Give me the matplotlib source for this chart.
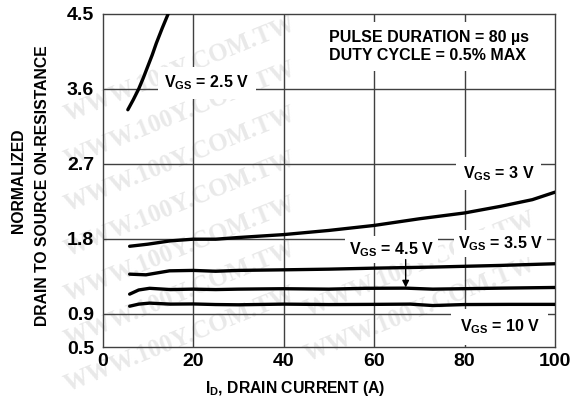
import matplotlib
matplotlib.use("Agg")
import matplotlib.pyplot as plt

# ---------------- data ----------------
id_25 = [5.6, 6.8, 8.0, 9.0, 10.0, 11.0, 11.9, 13.2, 14.5]
r_25 = [3.35, 3.47, 3.60, 3.73, 3.87, 4.01, 4.15, 4.33, 4.50]

id_3 = [6, 10, 15, 20, 25, 30, 40, 50, 60, 70, 80, 88, 95, 100]
r_3 = [1.71, 1.735, 1.775, 1.795, 1.795, 1.815, 1.85, 1.90, 1.96, 2.04, 2.11, 2.19, 2.27, 2.36]

id_35 = [6, 9.6, 14.8, 20, 25, 30, 40, 50, 60, 73, 88, 100]
r_35 = [1.375, 1.367, 1.415, 1.42, 1.41, 1.42, 1.427, 1.435, 1.447, 1.46, 1.48, 1.50]

id_45 = [6, 8, 10.4, 15, 20, 25, 30, 40, 50, 58, 67, 73, 88, 100]
r_45 = [1.135, 1.185, 1.205, 1.19, 1.195, 1.19, 1.195, 1.20, 1.195, 1.205, 1.207, 1.195, 1.207, 1.215]

id_10 = [6, 8, 10.4, 15, 20, 25, 30, 40, 50, 60, 68, 73, 80, 90, 100]
r_10 = [0.99, 1.015, 1.027, 1.015, 1.017, 1.01, 1.007, 1.015, 1.01, 1.012, 1.015, 0.998, 1.01, 1.012, 1.012]

xticks = [0, 20, 40, 60, 80, 100]
yticks = [0.5, 0.9, 1.8, 2.7, 3.6, 4.5]
ytick_labels = ["0.5", "0.9", "1.8", "2.7", "3.6", "4.5"]

# ---------------- style ----------------
plt.rcParams['font.family'] = ['Liberation Sans', 'DejaVu Sans']
plt.rcParams['font.weight'] = 'bold'
plt.rcParams['mathtext.fontset'] = 'custom'
plt.rcParams['mathtext.rm'] = 'Liberation Sans:bold'
plt.rcParams['mathtext.it'] = 'Liberation Sans:bold'
plt.rcParams['mathtext.bf'] = 'Liberation Sans:bold'

W, H = 580, 404
fig = plt.figure(figsize=(W / 100, H / 100), dpi=100)
L, R, T, B = 102.5, 555, 14, 347
ax = fig.add_axes([L / W, 1 - B / H, (R - L) / W, (B - T) / H])
ax.set_facecolor('none')

# watermark (very faint, behind everything)
wm_color = '#e9e9e9'
for i in range(7):
    fig.text(180 / W, 1 - (70 + 45 * i) / H, "WWW.100Y.COM.TW", rotation=22,
             ha='center', va='center', fontsize=18, family='Liberation Serif',
             weight='bold', color=wm_color, zorder=-5)
for i in range(2):
    fig.text(420 / W, 1 - (265 + 45 * i) / H, "WWW.100Y.COM.TW", rotation=22,
             ha='center', va='center', fontsize=18, family='Liberation Serif',
             weight='bold', color=wm_color, zorder=-5)

gc = '#404040'
for x in xticks[1:-1]:
    ax.axvline(x, color=gc, lw=1.0, zorder=1)
for y in yticks[1:-1]:
    ax.axhline(y, color=gc, lw=1.0, zorder=1)
for s in ax.spines.values():
    s.set_color(gc)
    s.set_linewidth(1.0)

lw = 2.4
for xs, ys in [(id_25, r_25), (id_3, r_3), (id_35, r_35), (id_45, r_45), (id_10, r_10)]:
    ax.plot(xs, ys, color='black', lw=lw, solid_capstyle='round', zorder=3)

ax.set_xlim(0, 100)
ax.set_ylim(0.5, 4.5)
ax.set_xticks(xticks)
ax.set_xticklabels([str(v) for v in xticks])
ax.set_yticks(yticks)
ax.set_yticklabels(ytick_labels)
ax.tick_params(length=0, labelsize=14)
ax.tick_params(axis='y', pad=6)
ax.tick_params(axis='x', pad=4)

fs = 11.5
ax.text(13.7, 3.618, r"$\mathrm{V_{GS}}$ = 2.5 V", fontsize=fs, ha='left', va='baseline',
        bbox=dict(facecolor='white', edgecolor='none', pad=5), zorder=2)
ax.text(79.6, 2.528, r"$\mathrm{V_{GS}}$ = 3 V", fontsize=fs, ha='left', va='baseline',
        bbox=dict(facecolor='white', edgecolor='none', pad=5), zorder=2)
ax.text(54.4, 1.619, r"$\mathrm{V_{GS}}$ = 4.5 V", fontsize=fs, ha='left', va='baseline',
        bbox=dict(facecolor='white', edgecolor='none', pad=3), zorder=2)
ax.text(78.5, 1.687, r"$\mathrm{V_{GS}}$ = 3.5 V", fontsize=fs, ha='left', va='baseline',
        bbox=dict(facecolor='white', edgecolor='none', pad=3), zorder=2)
ax.text(78.9, 0.686, r"$\mathrm{V_{GS}}$ = 10 V", fontsize=fs, ha='left', va='baseline',
        bbox=dict(facecolor='white', edgecolor='none', pad=6), zorder=2)
ax.text(50, 4.11, "PULSE DURATION = 80 \u00b5s\nDUTY CYCLE = 0.5% MAX", fontsize=fs,
        ha='left', va='center', linespacing=1.25,
        bbox=dict(facecolor='white', edgecolor='none', pad=6), zorder=2)

ax.annotate('', xy=(67, 1.215), xytext=(67, 1.55),
            arrowprops=dict(arrowstyle='-|>', color='black', lw=1.0, mutation_scale=10,
                            shrinkA=0, shrinkB=0), zorder=4)

fig.text(19 / W, 1 - 180.5 / H, "NORMALIZED", rotation=90, ha='center', va='center', fontsize=11.3)
fig.text(42.5 / W, 1 - 186 / H, "DRAIN TO SOURCE ON-RESISTANCE", rotation=90,
         ha='center', va='center', fontsize=11.3)
fig.text(295.5 / W, 1 - 388 / H, r"$\mathrm{I_D}$, DRAIN CURRENT (A)", ha='center',
         va='center', fontsize=11.3)

fig.savefig("out.png", dpi=100)
